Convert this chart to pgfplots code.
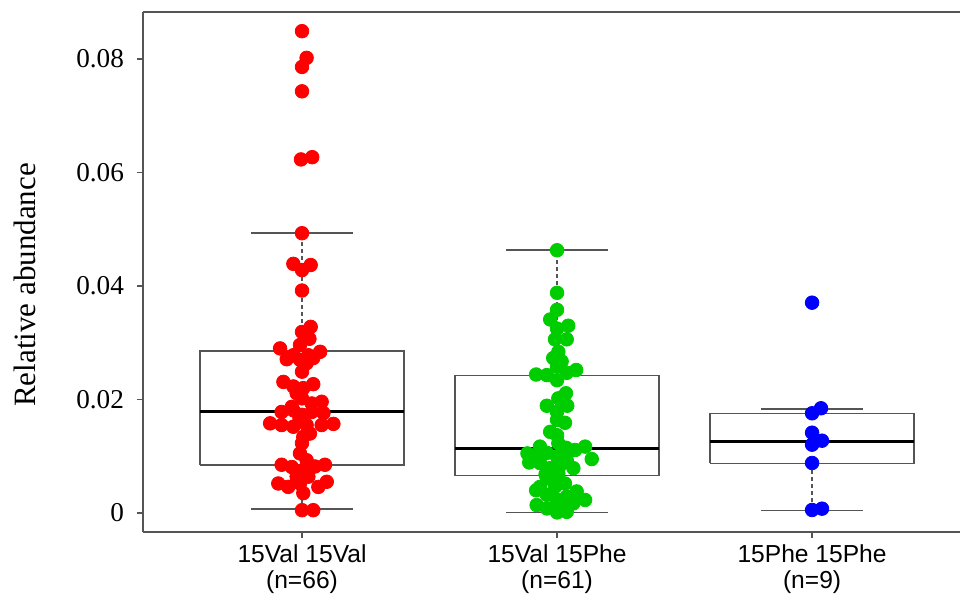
\documentclass[border=0pt]{standalone}
\usepackage{pgfplots}
\pgfplotsset{compat=1.18}
\usepackage{fontspec}
\setmainfont{Liberation Serif}
\newfontfamily\sansf{Liberation Sans}
\definecolor{rred}{RGB}{255,0,0}
\definecolor{rgreen}{RGB}{0,205,0}
\definecolor{rblue}{RGB}{0,0,255}
\definecolor{axgray}{RGB}{85,85,85}
\begin{document}
\begin{tikzpicture}
\begin{axis}[
  name=ax,
  scale only axis,
  width=408.5pt, height=260pt,
  xmin=0.3765, xmax=3.58,
  ymin=-0.00335, ymax=0.08828,
  axis x line*=box, axis y line*=left,
  xtick pos=bottom, ytick pos=left,
  tick align=outside,
  major tick length=3pt,
  axis line style={axgray, line width=0.75pt},
  every tick/.style={axgray, line width=0.6pt},
  scaled y ticks=false,
  xtick={1,2,3},
  xticklabels={{15Val 15Val\\(n=66)},{15Val 15Phe\\(n=61)},{15Phe 15Phe\\(n=9)}},
  xticklabel style={align=center, font=\sansf\fontsize{12.3}{12.8}\selectfont},
  ytick={0,0.02,0.04,0.06,0.08},
  yticklabels={0,0.02,0.04,0.06,0.08},
  yticklabel style={font=\fontsize{13.6}{13.6}\selectfont, xshift=-3pt},
  ylabel={Relative abundance},
  every axis y label/.style={at={(rel axis cs:-0.1444,0.475)}, anchor=center, rotate=90, font=\fontsize{15.5}{15.5}\selectfont},
  clip=false,
]
% ---- boxes ----
\pgfplotsset{boxc/.style={axgray, line width=0.75pt, line join=miter}, whisk/.style={axgray, line width=0.75pt, dash pattern=on 2pt off 1.5pt}}
% red
\addplot[boxc] coordinates {(0.6,0.00846) (1.4,0.00846) (1.4,0.02855) (0.6,0.02855) (0.6,0.00846)};
\addplot[whisk] coordinates {(1,0.02855) (1,0.0493)};
\addplot[whisk] coordinates {(1,0.00846) (1,0.0007)};
\addplot[boxc] coordinates {(0.8,0.0493) (1.2,0.0493)};
\addplot[boxc] coordinates {(0.8,0.0007) (1.2,0.0007)};
\addplot[black, line width=1.5pt] coordinates {(0.6,0.01797) (1.4,0.01797)};
% green
\addplot[boxc] coordinates {(1.6,0.00657) (2.4,0.00657) (2.4,0.0242) (1.6,0.0242) (1.6,0.00657)};
\addplot[whisk] coordinates {(2,0.0242) (2,0.0463)};
\addplot[whisk] coordinates {(2,0.00657) (2,0.00005)};
\addplot[boxc] coordinates {(1.8,0.0463) (2.2,0.0463)};
\addplot[boxc] coordinates {(1.8,0.00005) (2.2,0.00005)};
\addplot[black, line width=1.5pt] coordinates {(1.6,0.01128) (2.4,0.01128)};
% blue
\addplot[boxc] coordinates {(2.6,0.00876) (3.4,0.00876) (3.4,0.01757) (2.6,0.01757) (2.6,0.00876)};
\addplot[whisk] coordinates {(3,0.01757) (3,0.01833)};
\addplot[whisk] coordinates {(3,0.00876) (3,0.0004)};
\addplot[boxc] coordinates {(2.8,0.01833) (3.2,0.01833)};
\addplot[boxc] coordinates {(2.8,0.0004) (3.2,0.0004)};
\addplot[black, line width=1.5pt] coordinates {(2.6,0.01263) (3.4,0.01263)};
% ---- points ----
\addplot[only marks, mark=*, mark size=3.4pt, color=rred, mark options={draw=rred, fill=rred}] coordinates {
(1.000,0.0849) (1.018,0.0802) (1.000,0.0786) (1.000,0.0743) (0.996,0.0623) (1.040,0.0627)
(1.000,0.0493) (0.966,0.0439) (1.034,0.0437) (1.000,0.0428) (1.000,0.0392) (1.034,0.0328)
(1.000,0.0319) (1.029,0.0307) (0.992,0.0296) (0.914,0.0290) (1.071,0.0284) (0.966,0.0278)
(1.025,0.0278) (0.940,0.0271) (0.992,0.0270) (1.044,0.0273) (1.018,0.0264) (1.000,0.0249)
(0.927,0.0231) (1.044,0.0227) (0.966,0.0223) (1.005,0.0220) (0.979,0.0211) (1.000,0.0202)
(1.077,0.0196) (1.038,0.0193) (0.960,0.0187) (0.920,0.0178) (0.966,0.0181) (1.038,0.0178)
(1.084,0.0176) (1.000,0.0173) (0.990,0.0167) (0.875,0.0158) (0.920,0.0155) (0.966,0.0152)
(1.018,0.0155) (1.077,0.0155) (1.123,0.0157) (1.000,0.0161) (1.031,0.0140) (1.005,0.0134)
(1.000,0.0123) (0.992,0.0105) (1.018,0.0093) (0.920,0.0085) (0.960,0.0081) (1.090,0.0085)
(1.051,0.0082) (1.005,0.0076) (0.979,0.0064) (1.025,0.0064) (0.907,0.0052) (0.946,0.0046)
(1.097,0.0055) (1.064,0.0046) (0.992,0.0052) (1.005,0.0035) (1.000,0.0005) (1.044,0.0005)
};
\addplot[only marks, mark=*, mark size=3.4pt, color=rgreen, mark options={draw=rgreen, fill=rgreen}] coordinates {
(2.000,0.0463) (2.000,0.0388) (2.000,0.0358) (1.973,0.0341) (2.044,0.0330) (2.000,0.0325)
(1.992,0.0306) (2.038,0.0306) (2.005,0.0284) (1.985,0.0273) (2.018,0.0267) (2.000,0.0258)
(1.918,0.0244) (1.960,0.0243) (2.038,0.0247) (2.075,0.0252) (2.000,0.0234) (2.035,0.0211)
(2.005,0.0202) (1.960,0.0189) (2.040,0.0189) (2.000,0.0178) (2.000,0.0164) (2.031,0.0159)
(1.973,0.0143) (2.000,0.0137) (2.005,0.0123) (1.933,0.0117) (2.110,0.0117) (1.884,0.0105)
(2.071,0.0111) (1.960,0.0106) (2.000,0.0099) (2.136,0.0095) (1.891,0.0089) (1.933,0.0088)
(2.038,0.0093) (1.973,0.0079) (2.064,0.0079) (2.005,0.0070) (1.960,0.0061) (2.031,0.0052)
(1.933,0.0046) (1.992,0.0046) (2.077,0.0038) (1.960,0.0032) (2.038,0.0029) (2.000,0.0023)
(2.110,0.0023) (1.920,0.0014) (2.064,0.0017) (1.960,0.0008) (2.000,0.0001) (2.038,0.0002)
(2.035,0.0115) (1.918,0.0100) (2.012,0.0084) (1.955,0.0068) (2.000,0.0057) (1.918,0.0040)
(2.038,0.0012)
};
\addplot[only marks, mark=*, mark size=3.4pt, color=rblue, mark options={draw=rblue, fill=rblue}] coordinates {
(3.000,0.03706) (3.035,0.01845) (3.000,0.01757) (3.000,0.01415) (3.039,0.01274)
(3.000,0.01204) (3.000,0.00881) (3.000,0.00053) (3.039,0.00076)
};
\end{axis}
\pgfresetboundingbox
\path[use as bounding box] ([xshift=-71.5pt,yshift=-32.5pt]ax.south west) rectangle ([yshift=6pt]ax.north east);
\end{tikzpicture}
\end{document}
